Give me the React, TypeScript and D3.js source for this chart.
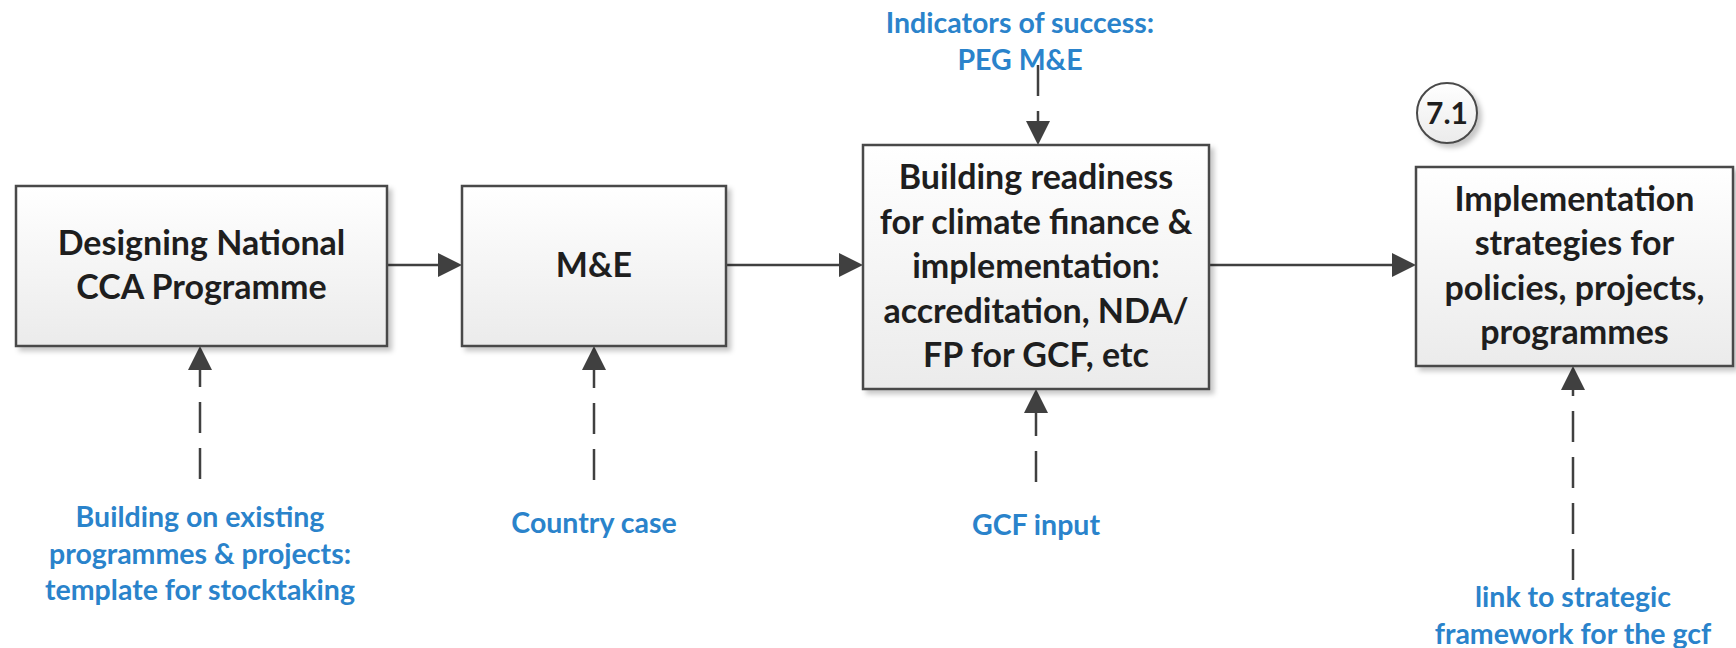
import * as d3 from "d3";

// node texts, left to right
const boxLabels: string[][] = [
  ["Designing National", "CCA Programme"],
  ["M&E"],
  ["Building readiness", "for climate finance &", "implementation:", "accreditation, NDA/", "FP for GCF, etc"],
  ["Implementation", "strategies for", "policies, projects,", "programmes"],
];
// inputs feeding each box from below
const inputLabels: string[][] = [
  ["Building on existing", "programmes & projects:", "template for stocktaking"],
  ["Country case"],
  ["GCF input"],
  ["link to strategic", "framework for the gcf"],
];
const topLabel = ["Indicators of success:", "PEG M&E"];
const badgeLabel = "7.1";

// layout (pixels)
const W = 1736;
const H = 648;
const boxes = [
  { x0: 16, x1: 387, y0: 186, y1: 346 },
  { x0: 462, x1: 726, y0: 186, y1: 346 },
  { x0: 863, x1: 1209, y0: 145, y1: 389 },
  { x0: 1416, x1: 1733, y0: 167, y1: 366 },
];
const flowY = 265;
const inputs = [
  { x: 200, yEnd: 479, textY: 527 },
  { x: 594, yEnd: 480, textY: 533 },
  { x: 1036, yEnd: 482, textY: 535 },
  { x: 1573, yEnd: 580, textY: 607 },
];
const topArrow = { x: 1038, y0: 65, textX: 1020, textY: 33 };
const badge = { cx: 1447, cy: 113, r: 30 };

const dark = "#404040";
const blue = "#2A83CB";
const font = "Lato, 'Open Sans', sans-serif";
const boxFont = 34;
const labelFont = 28.5;
const boxLine = 44.5;
const labelLine = 36.5;
const head = 24;
const half = 12;

const line = d3.line();

const arrowHead = (tx: number, ty: number, dir: "right" | "up" | "down") => {
  const pts: [number, number][] =
    dir === "right"
      ? [[tx, ty], [tx - head, ty - half], [tx - head, ty + half]]
      : dir === "up"
      ? [[tx, ty], [tx - half, ty + head], [tx + half, ty + head]]
      : [[tx, ty], [tx - half, ty - head], [tx + half, ty - head]];
  return line(pts) + "Z";
};

export default function App() {
  return (
    <svg
      width={W}
      height={H}
      viewBox={`0 0 ${W} ${H}`}
      style={{ position: "absolute", left: 0, top: 0, background: "#fff" }}
    >
      <defs>
        <linearGradient id="boxFill" x1="0" y1="0" x2="0" y2="1">
          <stop offset="0%" stopColor="#ffffff" />
          <stop offset="100%" stopColor="#ebebeb" />
        </linearGradient>
        <filter id="shadow" x="-10%" y="-10%" width="130%" height="130%">
          <feDropShadow dx="4" dy="4" stdDeviation="2.5" floodColor="#000" floodOpacity="0.22" />
        </filter>
      </defs>

      {/* flow arrows between boxes */}
      {boxes.slice(0, -1).map((b, i) => {
        const next = boxes[i + 1];
        return (
          <g key={`flow-${i}`}>
            <path
              d={line([[b.x1, flowY], [next.x0 - head + 2, flowY]]) || ""}
              stroke={dark}
              strokeWidth={2.5}
              fill="none"
            />
            <path d={arrowHead(next.x0, flowY, "right")} fill={dark} />
          </g>
        );
      })}

      {/* dashed input arrows from below */}
      {inputs.map((inp, i) => {
        const b = boxes[i];
        return (
          <g key={`in-${i}`}>
            <path
              d={line([[inp.x, inp.yEnd], [inp.x, b.y1 + head - 2]]) || ""}
              stroke={dark}
              strokeWidth={2.5}
              strokeDasharray="31 15"
              fill="none"
            />
            <path d={arrowHead(inp.x, b.y1, "up")} fill={dark} />
            {inputLabels[i].map((t, j) => (
              <text
                key={j}
                x={inp.x}
                y={inp.textY + j * labelLine}
                textAnchor="middle"
                fontFamily={font}
                fontWeight={700}
                fontSize={labelFont}
                fill={blue}
              >
                {t}
              </text>
            ))}
          </g>
        );
      })}

      {/* dashed arrow from the top label */}
      <path
        d={line([[topArrow.x, topArrow.y0], [topArrow.x, boxes[2].y0 - head + 2]]) || ""}
        stroke={dark}
        strokeWidth={2.5}
        strokeDasharray="31 15"
        fill="none"
      />
      <path d={arrowHead(topArrow.x, boxes[2].y0, "down")} fill={dark} />
      {topLabel.map((t, j) => (
        <text
          key={j}
          x={topArrow.textX}
          y={topArrow.textY + j * labelLine}
          textAnchor="middle"
          fontFamily={font}
          fontWeight={700}
          fontSize={labelFont}
          fill={blue}
        >
          {t}
        </text>
      ))}

      {/* boxes */}
      {boxes.map((b, i) => {
        const cx = (b.x0 + b.x1) / 2;
        const cy = (b.y0 + b.y1) / 2;
        const lines = boxLabels[i];
        const first = cy - ((lines.length - 1) * boxLine) / 2 + 11;
        return (
          <g key={`box-${i}`}>
            <rect
              x={b.x0}
              y={b.y0}
              width={b.x1 - b.x0}
              height={b.y1 - b.y0}
              fill="url(#boxFill)"
              stroke="#4a4a4a"
              strokeWidth={2.5}
              filter="url(#shadow)"
            />
            {lines.map((t, j) => (
              <text
                key={j}
                x={cx}
                y={first + j * boxLine}
                textAnchor="middle"
                fontFamily={font}
                fontWeight={700}
                fontSize={boxFont}
                fill="#1e1e1e"
              >
                {t}
              </text>
            ))}
          </g>
        );
      })}

      {/* step badge */}
      <circle
        cx={badge.cx}
        cy={badge.cy}
        r={badge.r}
        fill="url(#boxFill)"
        stroke="#4a4a4a"
        strokeWidth={2}
        filter="url(#shadow)"
      />
      <text
        x={badge.cx}
        y={badge.cy + 11}
        textAnchor="middle"
        fontFamily={font}
        fontWeight={700}
        fontSize={30}
        fill="#1e1e1e"
      >
        {badgeLabel}
      </text>
    </svg>
  );
}
